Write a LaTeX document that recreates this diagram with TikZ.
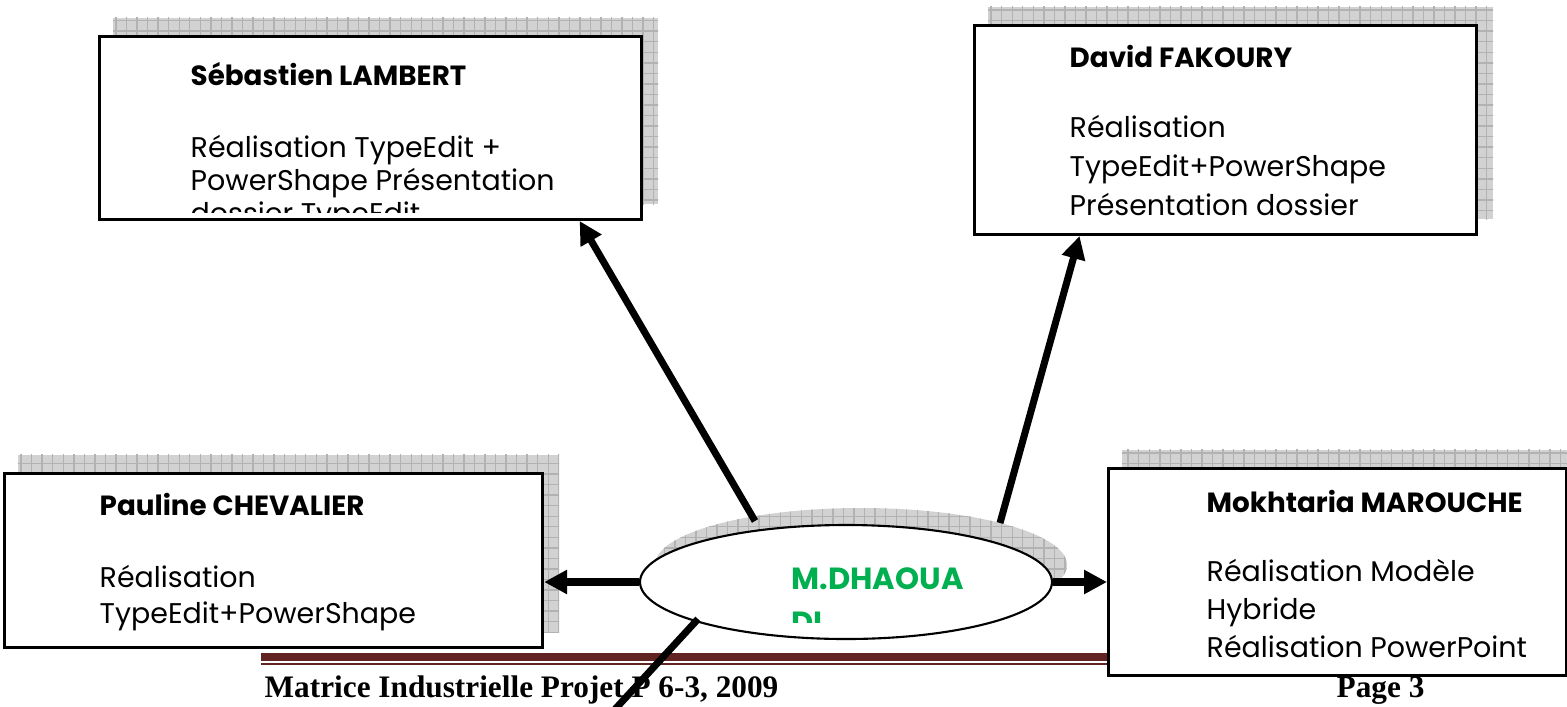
\documentclass[tikz,border=0pt]{standalone}
\usepackage{fontspec}
\setmainfont{Liberation Serif}
\newfontfamily\gothic{Poppins}
\usetikzlibrary{arrows.meta,patterns,backgrounds,shapes.geometric}
\definecolor{dgreen}{HTML}{00B050}
\definecolor{footred}{HTML}{622423}
\newcommand\who[1]{{\bfseries\fontsize{7.9}{11}\selectfont #1}}

\begin{document}
\begin{tikzpicture}[
  hatch/.style={fill=gray!35,postaction={pattern=grid,pattern color=gray!60}},
  card/.style={draw,line width=0.9pt,fill=white,anchor=south west,inner sep=0pt},
  cardtext/.style={anchor=north west,inner sep=0pt,align=left,font=\gothic\fontsize{8.1}{11.1}\selectfont},
  link/.style={line width=2pt,-{Triangle[length=6.5pt,width=6.5pt]}},
  footfont/.style={anchor=base west,inner sep=0pt,font=\bfseries\fontsize{8.9}{10}\selectfont}
]
\useasboundingbox (0,0) rectangle (15.67,7.06);
\clip (0,0) rectangle (15.67,7.06);

% Footer
\draw[footred,line width=2.3pt] (2.61,0.49) -- (15.20,0.49);
\draw[footred,line width=0.6pt] (2.61,0.42) -- (15.20,0.42);
\node[footfont] (footer) at (2.64,0.09) {Matrice Industrielle Projet P 6-3, 2009};
\node[footfont] (page) at (13.36,0.09) {Page 3};

% Team boxes
\node[card,minimum width=5.42cm,minimum height=1.83cm] (lambert) at (0.98,4.85) {};
\node[card,minimum width=5.02cm,minimum height=2.09cm] (fakoury) at (9.73,4.70) {};
\node[card,minimum width=5.38cm,minimum height=1.74cm] (chevalier) at (0.03,0.57) {};
\node[card,minimum width=4.58cm,minimum height=2.07cm] (marouche) at (11.07,0.29) {};

% Central node
\node[ellipse,draw,line width=0.6pt,fill=white,minimum width=4.12cm,minimum height=1.14cm] (dhaouadi) at (8.46,1.24) {};

% Shadows
\begin{scope}[on background layer]
\fill[hatch] ([shift={(0.15,0.17)}]lambert.south west) rectangle ([shift={(0.15,0.17)}]lambert.north east);
\fill[hatch] ([shift={(0.15,0.17)}]fakoury.south west) rectangle ([shift={(0.15,0.17)}]fakoury.north east);
\fill[hatch] ([shift={(0.15,0.17)}]chevalier.south west) rectangle ([shift={(0.15,0.17)}]chevalier.north east);
\fill[hatch] ([shift={(0.15,0.17)}]marouche.south west) rectangle ([shift={(0.15,0.17)}]marouche.north east);
\fill[hatch] ([shift={(0.15,0.17)}]dhaouadi.center) ellipse [x radius=2.06cm, y radius=0.57cm];
\end{scope}

% Connections
\coordinate (d1) at ([shift={(-0.91,0.61)}]dhaouadi.center);
\coordinate (d2) at ([shift={(1.54,0.59)}]dhaouadi.center);
\coordinate (d5) at ([shift={(-1.48,-0.37)}]dhaouadi.center);
\coordinate (offpage) at (5.95,-0.25);
\draw[link] (d1) -- (lambert.-24.5);
\draw[link] (d2) -- (fakoury.-144);
\draw[link] (dhaouadi.west) -- (dhaouadi.west -| chevalier.east);
\draw[link] (dhaouadi.east) -- (dhaouadi.east -| marouche.west);
\draw[line width=2pt] (d5) -- (offpage);

% Box texts
\begin{scope}
\clip ([yshift=0.09cm]lambert.south west) rectangle (lambert.north east);
\node[cardtext,font=\gothic\fontsize{8.1}{9.4}\selectfont] (lambert-t) at ([shift={(0.92,-0.27)}]lambert.north west) {\who{Sébastien LAMBERT}\\[11pt]Réalisation TypeEdit +\\PowerShape Présentation\\dossier TypeEdit};
\end{scope}
\begin{scope}
\clip (fakoury.south west) rectangle (fakoury.north east);
\node[cardtext] (fakoury-t) at ([shift={(0.96,-0.21)}]fakoury.north west) {\who{David FAKOURY}\\[8.8pt]Réalisation\\TypeEdit+PowerShape\\Présentation dossier};
\end{scope}
\node[cardtext,font=\gothic\fontsize{8.1}{10.3}\selectfont] (chevalier-t) at ([shift={(0.96,-0.21)}]chevalier.north west) {\who{Pauline CHEVALIER}\\[10pt]Réalisation\\TypeEdit+PowerShape};
\node[cardtext,font=\gothic\fontsize{8.1}{10.9}\selectfont] (marouche-t) at ([shift={(0.99,-0.23)}]marouche.north west) {\who{Mokhtaria MAROUCHE}\\[8.6pt]Réalisation Modèle\\Hybride\\Réalisation PowerPoint};

% Central label
\begin{scope}
\clip (7.80,0.84) rectangle (9.80,1.62);
\node[anchor=north west,inner sep=0pt,align=left,text=dgreen,font=\gothic\bfseries\fontsize{8.7}{12.6}\selectfont] (dhaouadi-t) at (7.91,1.39) {M.DHAOUA\\DI};
\end{scope}

\end{tikzpicture}
\end{document}
